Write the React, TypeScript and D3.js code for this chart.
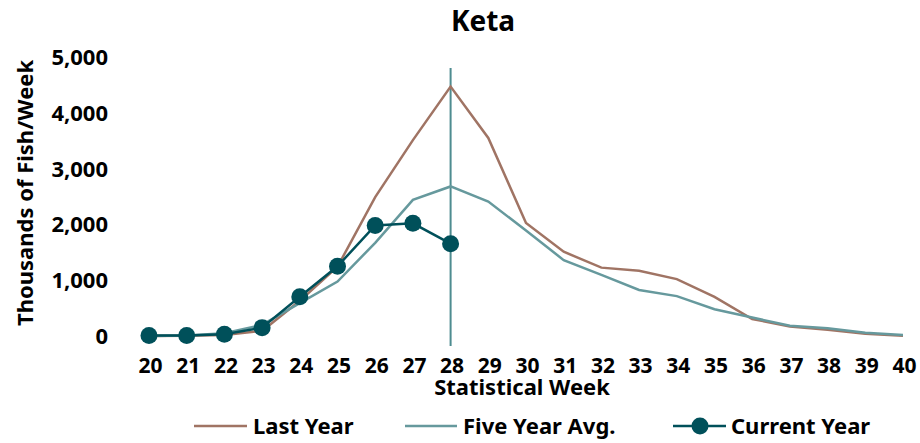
import React from "react";
import * as d3 from "d3";

const weeks = [20, 21, 22, 23, 24, 25, 26, 27, 28, 29, 30, 31, 32, 33, 34, 35, 36, 37, 38, 39, 40];
const lastYear = [0, 5, 20, 90, 630, 1240, 2490, 3510, 4470, 3550, 2025, 1510, 1225, 1170, 1020, 700, 305, 170, 110, 40, 5];
const fiveYearAvg = [0, 10, 50, 200, 590, 975, 1670, 2440, 2680, 2410, 1890, 1360, 1095, 825, 715, 480, 330, 185, 140, 60, 20];
const currentWeeks = [20, 21, 22, 23, 24, 25, 26, 27, 28];
const currentYear = [10, 10, 30, 150, 705, 1250, 1980, 2020, 1655];
const yTicks = [0, 1000, 2000, 3000, 4000, 5000];
const markerWeek = 28;

const C_LAST = "#a07464";
const C_AVG = "#66999d";
const C_CUR = "#00505a";
const C_VLINE = "#4e8c90";
const FONT = "'Noto Sans', 'Open Sans', sans-serif";

export default function App() {
  const W = 920, H = 443;
  const x = d3.scaleLinear().domain([20, 40]).range([149, 903]);
  const y = d3.scaleLinear().domain([0, 5000]).range([336, 57]);
  const line = d3.line<[number, number]>().x(d => x(d[0])).y(d => y(d[1]));
  const lastPts = weeks.map((w, i) => [w, lastYear[i]] as [number, number]);
  const avgPts = weeks.map((w, i) => [w, fiveYearAvg[i]] as [number, number]);
  const curPts = currentWeeks.map((w, i) => [w, currentYear[i]] as [number, number]);
  const fmt = d3.format(",");
  const LY = 426;
  return (
    <svg width={W} height={H} style={{ position: "absolute", left: 0, top: 0, fontFamily: FONT }}>
      <rect width={W} height={H} fill="#fff" />
      <text x={483} y={31} textAnchor="middle" fontSize={28} fontWeight="bold" fill="#000">Keta</text>
      {yTicks.map(t => (
        <text key={t} x={108} y={y(t)} dy="0.36em" textAnchor="end" fontSize={22} fontWeight="bold" fill="#000">{fmt(t)}</text>
      ))}
      <text transform="translate(33,193) rotate(-90)" textAnchor="middle" fontSize={22} fontWeight="bold" fill="#000">Thousands of Fish/Week</text>
      {weeks.map(w => (
        <text key={w} x={x(w) + 1.5} y={365} dy="0.36em" textAnchor="middle" fontSize={21} fontWeight="bold" fill="#000">{w}</text>
      ))}
      <text x={522} y={395} textAnchor="middle" fontSize={22} fontWeight="bold" fill="#000">Statistical Week</text>
      <line x1={x(markerWeek)} x2={x(markerWeek)} y1={68} y2={346} stroke={C_VLINE} strokeWidth={2} />
      <path d={line(lastPts) || ""} fill="none" stroke={C_LAST} strokeWidth={2.5} />
      <path d={line(avgPts) || ""} fill="none" stroke={C_AVG} strokeWidth={2.5} />
      <path d={line(curPts) || ""} fill="none" stroke={C_CUR} strokeWidth={2.5} />
      {curPts.map((p, i) => (
        <circle key={i} cx={x(p[0])} cy={y(p[1])} r={8.5} fill={C_CUR} />
      ))}
      <g fontSize={22} fontWeight="bold" fill="#000">
        <line x1={194} x2={247} y1={LY} y2={LY} stroke={C_LAST} strokeWidth={2.5} />
        <text x={253} y={LY} dy="0.36em">Last Year</text>
        <line x1={405} x2={457} y1={LY} y2={LY} stroke={C_AVG} strokeWidth={2.5} />
        <text x={463} y={LY} dy="0.36em">Five Year Avg.</text>
        <line x1={673} x2={726} y1={LY} y2={LY} stroke={C_CUR} strokeWidth={2.5} />
        <circle cx={700} cy={LY} r={8.5} fill={C_CUR} />
        <text x={731} y={LY} dy="0.36em">Current Year</text>
      </g>
    </svg>
  );
}
